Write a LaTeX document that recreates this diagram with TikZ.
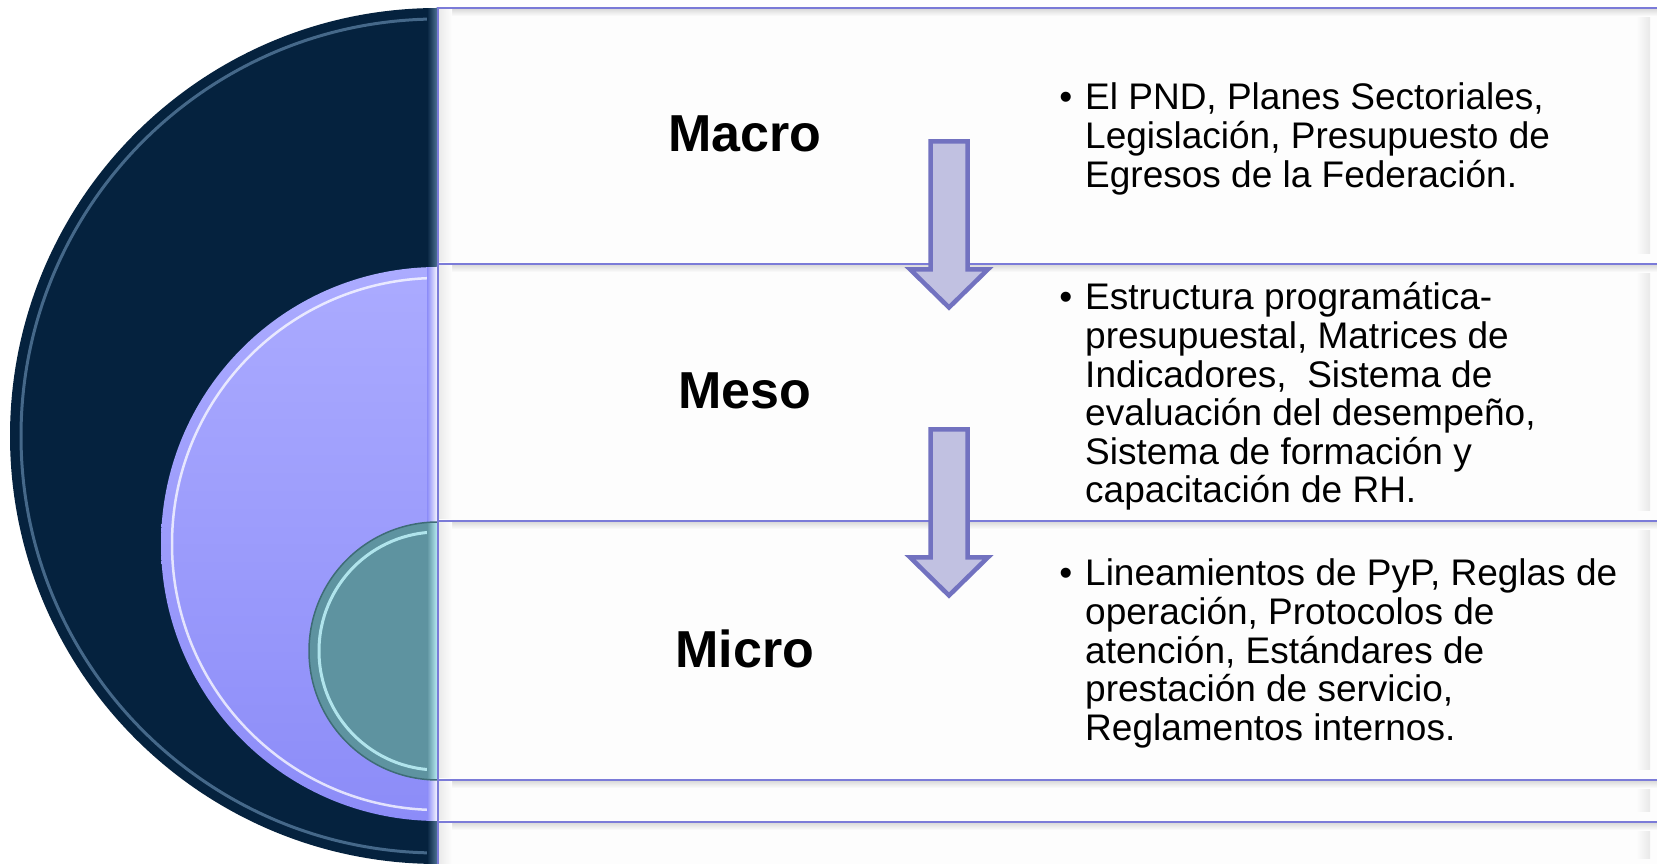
\documentclass[tikz,border=0pt]{standalone}
\usepackage{fontspec}
\setmainfont{Liberation Sans}
\definecolor{navy}{HTML}{05223E}
\definecolor{navyrim}{HTML}{557A9C}
\definecolor{purptop}{HTML}{ABABFF}
\definecolor{purpbot}{HTML}{8C8CF8}
\definecolor{tealfill}{HTML}{5E93A0}
\definecolor{tealedge}{HTML}{3E6C76}
\definecolor{tealrim}{HTML}{BFF3FA}
\definecolor{boxblue}{HTML}{7B7BD8}
\definecolor{boxfill}{HTML}{FDFDFD}
\definecolor{arrowline}{HTML}{7272C0}
\definecolor{arrowfill}{HTML}{C1C1E1}
\newcommand{\tlines}[1]{\vtop{\baselineskip=38.6pt\lineskiplimit=-100pt\lineskip=0pt #1}}
\begin{document}
\begin{tikzpicture}[x=1pt,y=1pt,
  boxline/.style={draw=boxblue, line width=2pt},
  lbl/.style={font=\fontsize{52}{60}\selectfont\bfseries, inner sep=0pt, anchor=center},
  items/.style={font=\fontsize{37}{38.6}\selectfont, inner sep=0pt, anchor=base west},
  blockarrow/.style={draw=arrowline, fill=arrowfill, line width=4.5pt, line join=miter}]
\useasboundingbox (0,0) rectangle (1657,864);
\clip (0,0) rectangle (1657,864);
\fill[white] (0,0) rectangle (1657,864);

% dark half disc
\fill[navy] (438,856) arc[start angle=90,end angle=270,radius=428pt] -- cycle;
\begin{scope}
  \clip (438,856) arc[start angle=90,end angle=270,radius=428pt] -- cycle;
  \draw[navyrim, line width=3pt, opacity=0.8] (438,428) ++(90:417pt) arc[start angle=90,end angle=270,radius=417pt];
  \shade[left color=navy, right color=navyrim] (427,0) rectangle (438,864);
\end{scope}

% purple half disc
\shade[top color=purptop, bottom color=purpbot] (438,597) arc[start angle=90,end angle=270,radius=277pt] -- cycle;
\begin{scope}
  \clip (438,597) arc[start angle=90,end angle=270,radius=277pt] -- cycle;
  \draw[white, line width=2.5pt, opacity=0.75] (438,320) ++(90:266pt) arc[start angle=90,end angle=270,radius=266pt];
  \shade[left color=purpbot, right color=white] (427,0) rectangle (438,864);
\end{scope}

% teal half disc
\fill[tealfill] (438,342) arc[start angle=90,end angle=270,radius=129pt] -- cycle;
\begin{scope}
  \clip (438,342) arc[start angle=90,end angle=270,radius=129pt] -- cycle;
  \draw[tealrim, line width=3pt, opacity=0.85] (438,213) ++(90:119pt) arc[start angle=90,end angle=270,radius=119pt];
  \shade[left color=tealfill, right color=tealrim] (427,0) rectangle (438,864);
\end{scope}
\draw[tealedge, line width=1.5pt] (438,342) arc[start angle=90,end angle=270,radius=129pt];

% boxes
\fill[boxfill] (438,-5) rectangle (1670,856);
\foreach \ytop/\ybot in {856/600, 600/343, 343/84, 84/42, 42/-5}{
  \shade[top color=black!14, bottom color=boxfill] (438,\ytop-1) rectangle (1670,\ytop-8);
  \shade[left color=black!8, right color=boxfill] (439,\ytop-2) rectangle (452,\ybot+2);
  \shade[left color=boxfill, right color=black!9] (1636,\ytop-10) rectangle (1650,\ybot+10);
}
\draw[boxline] (438,856) -- (1670,856);
\foreach \yy in {600,343,84,42}{
  \draw[boxline] (438,\yy) -- (1670,\yy);
}
\draw[boxline] (438,-5) -- (438,857);

% labels
\node[lbl] (macro) at (745,730) {Macro};
\node[lbl] (meso) at (745,473) {Meso};
\node[lbl] (micro) at (745,215) {Micro};

% bullet texts
\node[items] (macroitems) at (1085,754) {\tlines{%
  \hbox{\llap{•\hspace{13pt}}El PND, Planes Sectoriales,}%
  \hbox{Legislación, Presupuesto de}%
  \hbox{Egresos de la Federación.}}};
\node[items] (mesoitems) at (1085,554) {\tlines{%
  \hbox{\llap{•\hspace{13pt}}Estructura programática-}%
  \hbox{presupuestal, Matrices de}%
  \hbox{Indicadores, \ Sistema de}%
  \hbox{evaluación del desempeño,}%
  \hbox{Sistema de formación y}%
  \hbox{capacitación de RH.}}};
\node[items] (microitems) at (1085,278) {\tlines{%
  \hbox{\llap{•\hspace{13pt}}Lineamientos de PyP, Reglas de}%
  \hbox{operación, Protocolos de}%
  \hbox{atención, Estándares de}%
  \hbox{prestación de servicio,}%
  \hbox{Reglamentos internos.}}};

% block arrows
\draw[blockarrow] (930.5,722.5) -- (967.5,722.5) -- (967.5,594.7) -- (988,594.7)
  -- (949,556.5) -- (910,594.7) -- (930.5,594.7) -- cycle;
\draw[blockarrow] (930.5,434.5) -- (967.5,434.5) -- (967.5,306.7) -- (988,306.7)
  -- (949,268.5) -- (910,306.7) -- (930.5,306.7) -- cycle;
\end{tikzpicture}
\end{document}
